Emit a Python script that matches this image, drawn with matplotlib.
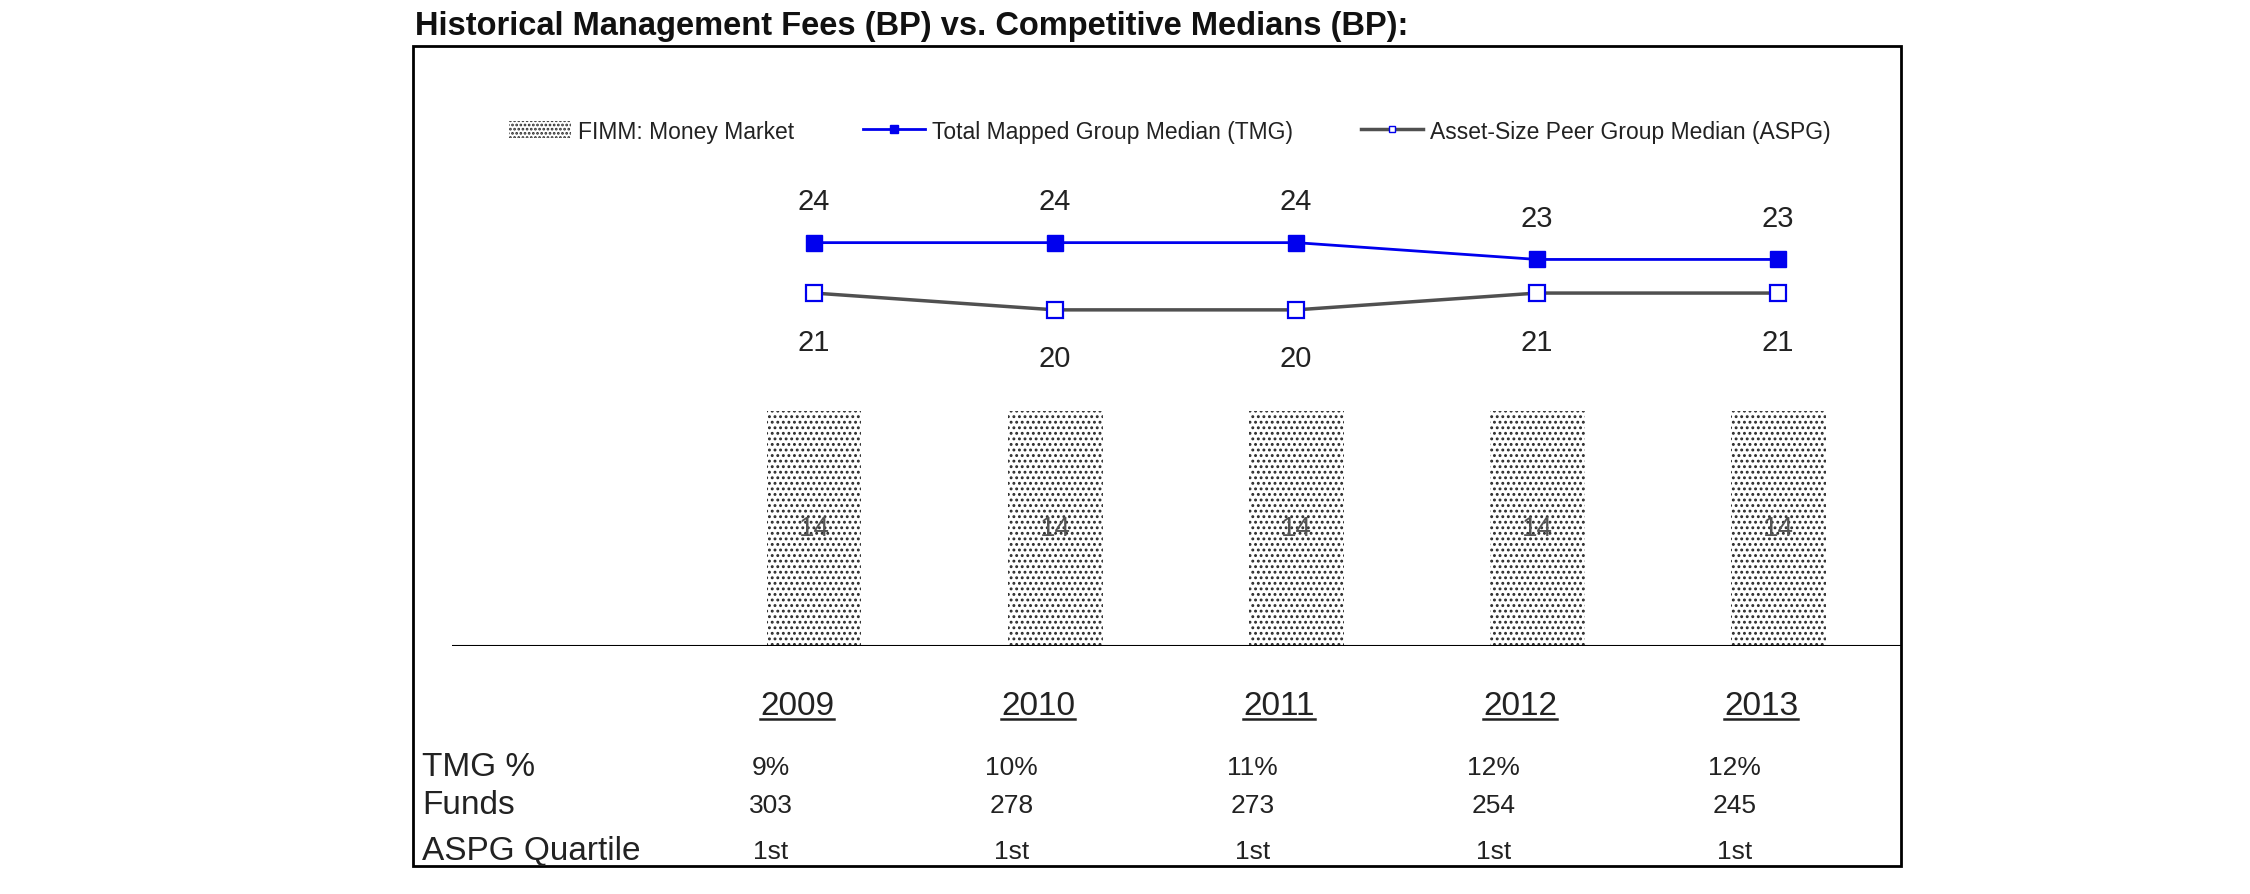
import matplotlib.pyplot as plt
import matplotlib as mpl
import matplotlib.transforms as mtransforms
from matplotlib.patches import Rectangle, Patch
from matplotlib.lines import Line2D
import numpy as np

# data
years = ["2009", "2010", "2011", "2012", "2013"]
fimm = [14, 14, 14, 14, 14]
tmg = [24, 24, 24, 23, 23]
aspg = [21, 20, 20, 21, 21]
row_labels = ["TMG %", "Funds", "ASPG Quartile"]
tmg_pct = ["9%", "10%", "11%", "12%", "12%"]
funds = ["303", "278", "273", "254", "245"]
quartile = ["1st", "1st", "1st", "1st", "1st"]

plt.rcParams['font.family'] = ['Liberation Sans', 'DejaVu Sans']
plt.rcParams['hatch.linewidth'] = 1.3

# figure dimensions
png_width = 2250
png_height = 895
png_dpi = 100

def fx(x):
    return x / png_width

def fy(y):
    return 1 - y / png_height

fig = plt.figure(figsize=(png_width / png_dpi, png_height / png_dpi), dpi=png_dpi)

# outer frame + title
fig.patches.append(Rectangle((fx(413), fy(867)), fx(1901) - fx(413), fy(47) - fy(867),
                             transform=fig.transFigure, fill=False, lw=2, ec='black'))
fig.text(fx(415), fy(26), "Historical Management Fees (BP) vs. Competitive Medians (BP):",
         fontsize=23.5, fontweight='bold', ha='left', va='center', color='#111111')

ax = fig.add_axes([fx(452), fy(647), fx(1901) - fx(452), fy(47) - fy(647)])
x = np.arange(len(years))
ax.set_xlim(-1.502, 4.51)
ax.set_ylim(0, 35.7)
ax.axis('off')
ax.axhline(0, color='black', lw=1.5)

bars = ax.bar(x, fimm, width=0.394, color='white', edgecolor='#2a2a2a', linewidth=0,
              hatch='...')
for xi, v in zip(x, fimm):
    ax.text(xi, v / 2, str(v), ha='center', va='center', fontsize=20, color='#555555')

ax.plot(x, tmg, color='#0000ee', lw=2, marker='s', ms=12, mfc='#0000ee', mec='#0000ee')
ax.plot(x, aspg, color='#505050', lw=2.5, marker='s', ms=11, mfc='white', mec='#0000ee', mew=1.6)

for xi, v in zip(x, tmg):
    ax.annotate(str(v), (xi, v), xytext=(0, 30), textcoords='offset points',
                ha='center', va='center', fontsize=21, color='#222222')
for xi, v in zip(x, aspg):
    ax.annotate(str(v), (xi, v), xytext=(0, -35), textcoords='offset points',
                ha='center', va='center', fontsize=21, color='#222222')

# legend
handles = [
    Patch(facecolor='white', edgecolor='#2a2a2a', linewidth=0, hatch='....'),
    Line2D([], [], color='#0000ee', lw=2, marker='s', ms=6, mfc='#0000ee', mec='#0000ee'),
    Line2D([], [], color='#505050', lw=2.5, marker='s', ms=5, mfc='white', mec='#0000ee'),
]
labels = ["FIMM: Money Market", "Total Mapped Group Median (TMG)",
          "Asset-Size Peer Group Median (ASPG)"]
fig.legend(handles, labels, loc='center', bbox_to_anchor=(fx(1170), fy(132)), ncol=3,
           frameon=False, fontsize=16.5, handlelength=2.7, handletextpad=0.3,
           columnspacing=3.0, labelcolor='#222222')

# table under the chart
trans = mtransforms.blended_transform_factory(ax.transData, fig.transFigure)
year_texts = []
for xi, yr in zip(x, years):
    t = ax.text(xi - 0.07, fy(707), yr, transform=trans,
                ha='center', va='center', fontsize=24, color='#222222')
    year_texts.append(t)

rows = [tmg_pct, funds, quartile]
row_y = [768, 806, 852]
for lab, vals, ry in zip(row_labels, rows, row_y):
    fig.text(fx(422), fy(ry), lab, ha='left', va='center', fontsize=24, color='#222222')
    for xi, v in zip(x, vals):
        ax.text(xi - 0.18, fy(ry), v, transform=trans, ha='center', va='center',
                fontsize=19, color='#222222')

# underline the year labels
fig.canvas.draw()
renderer = fig.canvas.get_renderer()
for t in year_texts:
    bb = t.get_window_extent(renderer)
    yline = bb.y0 + 3
    fig.lines.append(Line2D([bb.x0 / png_width, bb.x1 / png_width],
                            [yline / png_height, yline / png_height],
                            transform=fig.transFigure, color='#222222', lw=1.8))

plt.savefig("out.png", dpi=png_dpi)
